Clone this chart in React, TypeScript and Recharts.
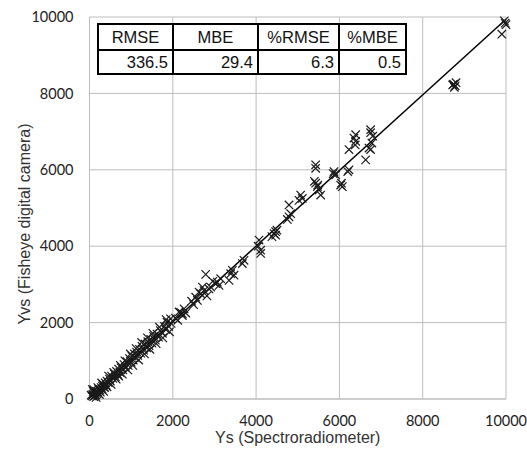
import React from "react";
import {
  CartesianGrid,
  Label,
  ReferenceLine,
  Scatter,
  ScatterChart,
  XAxis,
  YAxis,
} from "recharts";

// Ys (spectroradiometer) vs Yvs (fisheye camera)
const lowRange: [number, number][] = [
  [40, 100], [60, 80], [80, 120], [90, 200], [100, 60], [110, 240], [120, 150],
  [130, 90], [150, 110], [170, 200], [180, 140], [200, 180], [200, 300],
  [220, 260], [250, 230], [260, 180], [280, 300], [300, 260], [310, 340],
  [330, 380], [350, 320], [360, 300], [380, 420], [400, 360], [420, 470],
  [450, 430], [480, 520], [500, 470], [530, 600], [560, 540], [600, 650],
  [620, 580], [650, 720], [680, 640], [700, 780], [730, 700], [760, 820],
  [800, 760], [830, 900], [860, 830], [900, 980], [930, 880], [960, 1060],
  [1000, 960], [1020, 1120], [1050, 1020], [1080, 1180], [1100, 1080],
  [1130, 1230], [1160, 1140], [1200, 1300], [1230, 1200], [1260, 1380],
  [1300, 1280], [1330, 1440], [1370, 1340], [1400, 1500], [1430, 1400],
  [1470, 1560], [1500, 1460], [1540, 1640], [1580, 1540], [1620, 1700],
  [1660, 1620], [1700, 1790], [1750, 1720], [1800, 1900], [1830, 1820],
  [1860, 2010], [1900, 1900], [1945, 2100], [1960, 1980],
  [70, 250], [160, 40], [240, 120], [290, 420], [340, 200], [420, 320],
  [460, 600], [520, 380], [580, 700], [640, 520], [700, 600], [740, 880],
  [790, 650], [850, 1000], [920, 760], [980, 1180], [1040, 880],
  [1120, 1320], [1180, 1020], [1250, 1480], [1320, 1180], [1390, 1600],
  [1450, 1300], [1520, 1720], [1600, 1450], [1680, 1880], [1760, 1600],
  [1840, 2080], [1920, 1760],
];

const midRange: [number, number][] = [
  [2060, 2120], [2120, 2060], [2150, 2280], [2190, 2270], [2230, 2185],
  [2270, 2360], [2230, 2230], [2310, 2250], [2450, 2560], [2500, 2470],
  [2550, 2665], [2590, 2580], [2630, 2800], [2670, 2755], [2710, 2930],
  [2750, 2840], [2790, 3263], [2820, 2700], [2870, 2880], [2910, 2930],
  [2960, 3080], [3030, 3020], [3070, 3060], [3110, 2975], [3150, 3150],
  [3350, 3105], [3390, 3280], [3430, 3370], [3470, 3240], [3670, 3545],
  [3710, 3630],
];

const highRange: [number, number][] = [
  [4050, 4000], [4070, 4160], [4110, 3895], [4110, 3810], [4380, 4250],
  [4430, 4330], [4470, 4380], [4470, 4290], [4500, 4420], [4750, 4700],
  [4790, 4770], [4790, 5080], [4830, 4850], [5030, 5200], [5070, 5340],
  [5110, 5250], [5400, 5700], [5430, 6130], [5430, 6040], [5430, 5650],
  [5470, 5560], [5480, 5600], [5510, 5470], [5550, 5340], [5850, 5900],
  [5870, 5955], [5910, 5870], [6030, 5600], [6050, 5650], [6070, 5560],
  [6200, 5955], [6230, 6000], [6230, 6530], [6350, 6830], [6380, 6650],
  [6390, 6920], [6390, 6745], [6630, 6260], [6710, 6570], [6750, 6530],
  [6750, 7050], [6750, 6970], [6780, 6700], [6800, 6880], [8720, 8220],
  [8740, 8240], [8760, 8160], [8780, 8200], [8800, 8280], [9900, 9550],
  [9960, 9900], [9980, 9840], [10000, 9800],
];

const ticks = [0, 2000, 4000, 6000, 8000, 10000];
const fitLine = { slope: 0.99, intercept: 40 };

const statHeaders = ["RMSE", "MBE", "%RMSE", "%MBE"];
const statValues = ["336.5", "29.4", "6.3", "0.5"];
const statWidths = [75, 85, 81, 67];

const points = [...lowRange, ...midRange, ...highRange].map(([x, y]) => ({ x, y }));

const XMark = (props: any) => {
  const { cx, cy } = props;
  const r = 4.2;
  return (
    <g stroke="#1a1a1a" strokeWidth={1.2}>
      <line x1={cx - r} y1={cy - r} x2={cx + r} y2={cy + r} />
      <line x1={cx - r} y1={cy + r} x2={cx + r} y2={cy - r} />
    </g>
  );
};

const tickStyle = { fontFamily: "Lato", fontSize: 14.5, fill: "#222" };
const titleFont = "'Liberation Sans', Arial, sans-serif";

export default function App() {
  const cellBase: React.CSSProperties = {
    border: "2px solid #000",
    padding: "0 4px",
    fontFamily: titleFont,
    fontSize: 16.5,
    color: "#111",
    lineHeight: "22px",
    overflow: "hidden",
    whiteSpace: "nowrap",
  };
  return (
    <div style={{ position: "absolute", left: 0, top: 0, width: 527, height: 451, background: "#fff" }}>
      <ScatterChart width={527} height={451} margin={{ top: 17, right: 21, bottom: 0, left: 0 }}>
        <CartesianGrid stroke="#bdbdbd" />
        <XAxis
          type="number"
          dataKey="x"
          domain={[0, 10000]}
          ticks={ticks}
          height={52}
          tickLine={false}
          tickMargin={11}
          stroke="#bdbdbd"
          tick={tickStyle}
        >
          <Label
            value="Ys (Spectroradiometer)"
            position="insideBottom"
            offset={8}
            style={{ fontFamily: titleFont, fontSize: 16, fill: "#333" }}
          />
        </XAxis>
        <YAxis
          type="number"
          dataKey="y"
          domain={[0, 10000]}
          ticks={ticks}
          width={89.5}
          tickLine={false}
          tickMargin={10}
          stroke="#bdbdbd"
          tick={tickStyle}
        >
          <Label
            content={() => (
              <text
                x={24}
                y={224}
                transform="rotate(-90 24 224)"
                textAnchor="middle"
                dominantBaseline="central"
                style={{ fontFamily: titleFont, fontSize: 16, fill: "#333" }}
              >
                Yvs (Fisheye digital camera)
              </text>
            )}
          />
        </YAxis>
        <Scatter data={points} shape={XMark} isAnimationActive={false} />
        <ReferenceLine
          segment={[
            { x: 0, y: fitLine.intercept },
            { x: 10000, y: fitLine.intercept + fitLine.slope * 10000 },
          ]}
          stroke="#000"
          strokeWidth={1.5}
        />
      </ScatterChart>
      <table
        style={{
          position: "absolute",
          left: 97,
          top: 23,
          width: 308,
          borderCollapse: "collapse",
          background: "#fff",
          tableLayout: "fixed",
        }}
      >
        <colgroup>
          {statWidths.map((w, i) => (
            <col key={i} style={{ width: w }} />
          ))}
        </colgroup>
        <tbody>
          <tr style={{ height: 26 }}>
            {statHeaders.map((h) => (
              <td key={h} style={{ ...cellBase, textAlign: "center" }}>
                {h}
              </td>
            ))}
          </tr>
          <tr style={{ height: 24 }}>
            {statValues.map((v, i) => (
              <td key={i} style={{ ...cellBase, textAlign: "right" }}>
                {v}
              </td>
            ))}
          </tr>
        </tbody>
      </table>
    </div>
  );
}
